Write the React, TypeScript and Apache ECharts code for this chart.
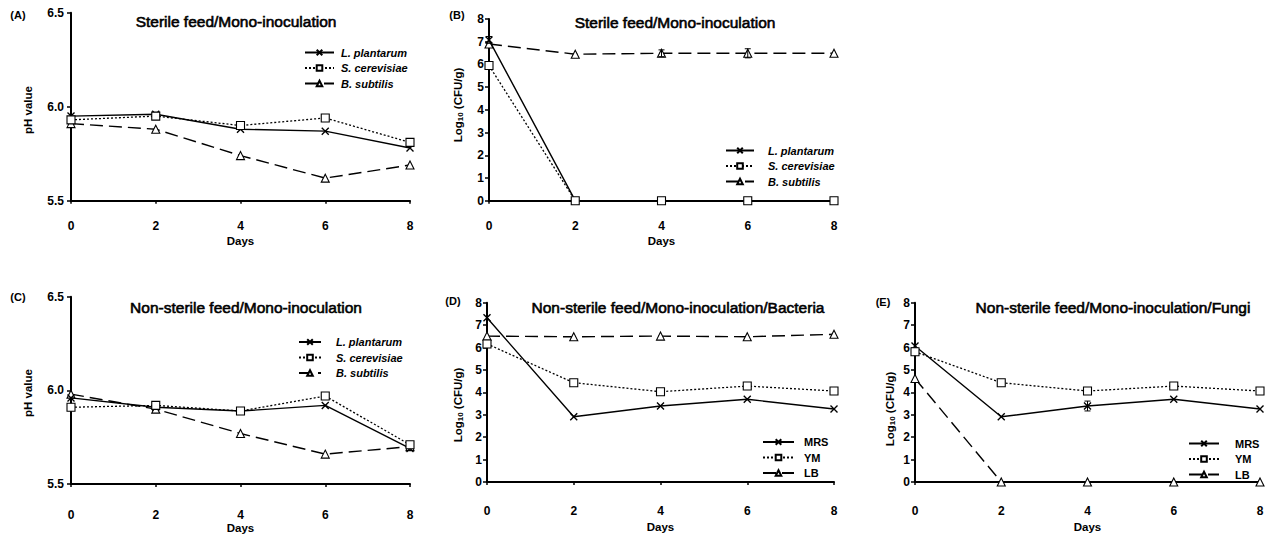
import React, { useEffect, useRef } from "react";
import * as echarts from "echarts";

const days = [0, 2, 4, 6, 8];

// (A) Sterile feed pH
const phSterileLPlantarum = [5.95, 5.96, 5.88, 5.87, 5.78];
const phSterileSCerevisiae = [5.93, 5.95, 5.9, 5.94, 5.81];
const phSterileBSubtilis = [5.91, 5.88, 5.74, 5.62, 5.69];

// (B) Sterile feed counts
const cfuSterileLPlantarum = [7.08, 0, 0, 0, 0];
const cfuSterileSCerevisiae = [5.95, 0, 0, 0, 0];
const cfuSterileBSubtilis = [6.9, 6.45, 6.49, 6.49, 6.49];
const errSterileLPlantarum = [0.15, 0, 0, 0, 0];
const errSterileBSubtilis = [0, 0, 0.15, 0.2, 0];

// (C) Non-sterile feed pH
const phNonSterileLPlantarum = [5.96, 5.91, 5.89, 5.92, 5.69];
const phNonSterileSCerevisiae = [5.91, 5.92, 5.89, 5.97, 5.71];
const phNonSterileBSubtilis = [5.98, 5.9, 5.77, 5.66, 5.7];

// (D) Non-sterile bacteria counts
const bactMRS = [7.33, 2.91, 3.39, 3.69, 3.26];
const bactYM = [6.16, 4.43, 4.03, 4.28, 4.06];
const bactLB = [6.51, 6.48, 6.51, 6.48, 6.59];

// (E) Non-sterile fungi counts
const fungiMRS = [6.07, 2.91, 3.39, 3.69, 3.26];
const fungiYM = [5.81, 4.43, 4.06, 4.28, 4.06];
const fungiLB = [4.62, 0, 0, 0, 0];
const errFungiMRS = [0, 0, 0.22, 0, 0];

const speciesNames = ["L. plantarum", "S. cerevisiae", "B. subtilis"];
const mediaNames = ["MRS", "YM", "LB"];
const panelLabels = ["(A)", "(B)", "(C)", "(D)", "(E)"];
const panelTitles = [
  "Sterile feed/Mono-inoculation",
  "Sterile feed/Mono-inoculation",
  "Non-sterile feed/Mono-inoculation",
  "Non-sterile feed/Mono-inoculation/Bacteria",
  "Non-sterile feed/Mono-inoculation/Fungi",
];

const FONT = "'Liberation Sans', Arial, sans-serif";
const X_PATH = "path://M0,0L10,10M10,0L0,10";

type Kind = "x" | "sq" | "tri";

function lineSeries(name: string, values: number[], kind: Kind, idx: number) {
  const base: any = {
    type: "line",
    name,
    xAxisIndex: idx,
    yAxisIndex: idx,
    data: days.map((d, i) => [d, values[i]]),
    showSymbol: true,
    symbolSize: 8,
    clip: false,
    z: kind === "sq" ? 4 : kind === "x" ? 3 : 2,
  };
  if (kind === "x") {
    base.symbol = X_PATH;
    base.symbolSize = 7;
    base.lineStyle = { color: "#000", width: 1.4, type: "solid" };
    base.itemStyle = { color: "#000", borderColor: "#000", borderWidth: 1.4 };
  } else if (kind === "sq") {
    base.symbol = "rect";
    base.lineStyle = { color: "#000", width: 1.3, type: [2, 2] };
    base.itemStyle = { color: "#fff", borderColor: "#000", borderWidth: 1.1 };
  } else {
    base.symbol = "triangle";
    base.lineStyle = { color: "#000", width: 1.4, type: [13, 6] };
    base.itemStyle = { color: "#fff", borderColor: "#000", borderWidth: 1.1 };
  }
  return base;
}

function errorSeries(values: number[], errs: number[], idx: number) {
  const data = days
    .map((d, i) => [d, values[i] - errs[i], values[i] + errs[i]])
    .filter((_, i) => errs[i] > 0);
  return {
    type: "custom",
    xAxisIndex: idx,
    yAxisIndex: idx,
    data,
    encode: { x: 0, y: [1, 2] },
    z: 5,
    renderItem: (params: any, api: any) => {
      const x = api.value(0);
      const lo = api.coord([x, api.value(1)]);
      const hi = api.coord([x, api.value(2)]);
      const st = { stroke: "#000", lineWidth: 1 };
      return {
        type: "group",
        children: [
          { type: "line", shape: { x1: lo[0], y1: lo[1], x2: hi[0], y2: hi[1] }, style: st },
          { type: "line", shape: { x1: lo[0] - 3, y1: lo[1], x2: lo[0] + 3, y2: lo[1] }, style: st },
          { type: "line", shape: { x1: hi[0] - 3, y1: hi[1], x2: hi[0] + 3, y2: hi[1] }, style: st },
        ],
      };
    },
  };
}

const grids = [
  { left: 71, top: 12.7, width: 339, height: 188 },
  { left: 489, top: 19, width: 345, height: 181.7 },
  { left: 71, top: 296.7, width: 339, height: 187.6 },
  { left: 487, top: 302.7, width: 347, height: 179.3 },
  { left: 915, top: 302.7, width: 345, height: 179.3 },
];
const xLabelMargin = [19, 19, 25, 23, 23];
const xNameGap = [34, 34, 37, 39, 39];

export default function App() {
  const ref = useRef<HTMLDivElement>(null);
  useEffect(() => {
    document.body.style.margin = "0";
    if (!ref.current) return;
    const chart = echarts.init(ref.current, undefined, { renderer: "svg" });

    const xAxes = grids.map((_, i) => ({
      type: "value",
      gridIndex: i,
      min: 0,
      max: 8,
      interval: 2,
      name: "Days",
      nameLocation: "middle",
      nameGap: xNameGap[i],
      nameTextStyle: { color: "#000", fontWeight: "bold", fontSize: 11.5, fontFamily: FONT },
      axisLine: { show: true, onZero: false, lineStyle: { color: "#000", width: 2 } },
      axisTick: { show: true, length: 3, lineStyle: { color: "#000", width: 1.5 } },
      axisLabel: { margin: xLabelMargin[i], color: "#000", fontWeight: "bold", fontSize: 12, fontFamily: FONT },
      splitLine: { show: false },
    }));

    const yAxes = grids.map((_, i) => {
      const isPh = i === 0 || i === 2;
      return {
        type: "value",
        gridIndex: i,
        min: isPh ? 5.5 : 0,
        max: isPh ? 6.5 : 8,
        interval: isPh ? 0.5 : 1,
        axisLine: { show: true, lineStyle: { color: "#000", width: 2 } },
        axisTick: { show: true, length: 4, lineStyle: { color: "#000", width: 1.5 } },
        axisLabel: {
          margin: isPh ? 7 : 5,
          color: "#000",
          fontWeight: "bold",
          fontSize: 12,
          fontFamily: FONT,
          formatter: (v: number) => (isPh ? v.toFixed(1) : String(v)),
        },
        splitLine: { show: false },
      };
    });

    const series: any[] = [
      lineSeries(speciesNames[0], phSterileLPlantarum, "x", 0),
      lineSeries(speciesNames[1], phSterileSCerevisiae, "sq", 0),
      lineSeries(speciesNames[2], phSterileBSubtilis, "tri", 0),
      lineSeries(speciesNames[0], cfuSterileLPlantarum, "x", 1),
      lineSeries(speciesNames[1], cfuSterileSCerevisiae, "sq", 1),
      lineSeries(speciesNames[2], cfuSterileBSubtilis, "tri", 1),
      errorSeries(cfuSterileLPlantarum, errSterileLPlantarum, 1),
      errorSeries(cfuSterileBSubtilis, errSterileBSubtilis, 1),
      lineSeries(speciesNames[0], phNonSterileLPlantarum, "x", 2),
      lineSeries(speciesNames[1], phNonSterileSCerevisiae, "sq", 2),
      lineSeries(speciesNames[2], phNonSterileBSubtilis, "tri", 2),
      lineSeries(mediaNames[0], bactMRS, "x", 3),
      lineSeries(mediaNames[1], bactYM, "sq", 3),
      lineSeries(mediaNames[2], bactLB, "tri", 3),
      lineSeries(mediaNames[0], fungiMRS, "x", 4),
      lineSeries(mediaNames[1], fungiYM, "sq", 4),
      lineSeries(mediaNames[2], fungiLB, "tri", 4),
      errorSeries(fungiMRS, errFungiMRS, 4),
    ];

    const legendBase = (left: number, top: number, itemWidth: number, textPad: number, names: string[], italic: boolean) => ({
      left,
      top,
      orient: "vertical",
      padding: 0,
      itemWidth,
      itemHeight: 7,
      itemGap: 4.5,
      selectedMode: false,
      data: names,
      textStyle: {
        color: "#000",
        fontWeight: "bold",
        fontStyle: italic ? "italic" : "normal",
        fontSize: 11,
        fontFamily: FONT,
        padding: [0, 0, 0, textPad],
      },
    });

    const legends = [
      legendBase(304, 47, 29, 2, speciesNames, true),
      legendBase(725, 145, 28, 9, speciesNames, true),
      legendBase(298, 336.5, 22, 10, speciesNames, true),
      legendBase(762, 436.5, 31, 5, mediaNames, false),
      legendBase(1188, 438, 30, 11, mediaNames, false),
    ];

    const labelPos = [
      [18, 15],
      [457, 15],
      [18, 297],
      [453, 301],
      [883, 302],
    ];
    const titlePos = [
      [236, 21],
      [675, 22],
      [246, 307],
      [678, 307],
      [1113, 307],
    ];
    const yNamePos = [
      [28, 110, "pH value"],
      [458, 105, "Log{sub|10} (CFU/g)"],
      [28, 393, "pH value"],
      [458, 405, "Log{sub|10} (CFU/g)"],
      [890, 409, "Log{sub|10} (CFU/g)"],
    ];

    const graphics: any[] = [];
    panelLabels.forEach((t, i) => {
      graphics.push({
        type: "text",
        x: labelPos[i][0],
        y: labelPos[i][1],
        style: { text: t, align: "center", verticalAlign: "middle", fontSize: 11, fontWeight: "bold", fontFamily: FONT, fill: "#000" },
      });
    });
    panelTitles.forEach((t, i) => {
      graphics.push({
        type: "text",
        x: titlePos[i][0],
        y: titlePos[i][1],
        style: {
          text: t,
          align: "center",
          verticalAlign: "middle",
          fontSize: 15.5,
          fontWeight: "normal",
          fontFamily: FONT,
          fill: "#000",
          stroke: "#000",
          lineWidth: 0.6,
        },
      });
    });
    yNamePos.forEach((p) => {
      graphics.push({
        type: "text",
        x: p[0] as number,
        y: p[1] as number,
        rotation: Math.PI / 2,
        style: {
          text: p[2] as string,
          align: "center",
          verticalAlign: "middle",
          fontSize: 11.5,
          fontWeight: "bold",
          fontFamily: FONT,
          fill: "#000",
          rich: {
            sub: { fontSize: 8, fontWeight: "bold", fontFamily: FONT, fill: "#000", verticalAlign: "bottom", padding: [4, 0, 0, 0] },
          },
        },
      });
    });

    chart.setOption({
      animation: false,
      backgroundColor: "#fff",
      grid: grids,
      xAxis: xAxes,
      yAxis: yAxes,
      legend: legends,
      series,
      graphic: graphics,
    });
    return () => chart.dispose();
  }, []);
  return <div ref={ref} style={{ width: 1284, height: 535 }} />;
}
